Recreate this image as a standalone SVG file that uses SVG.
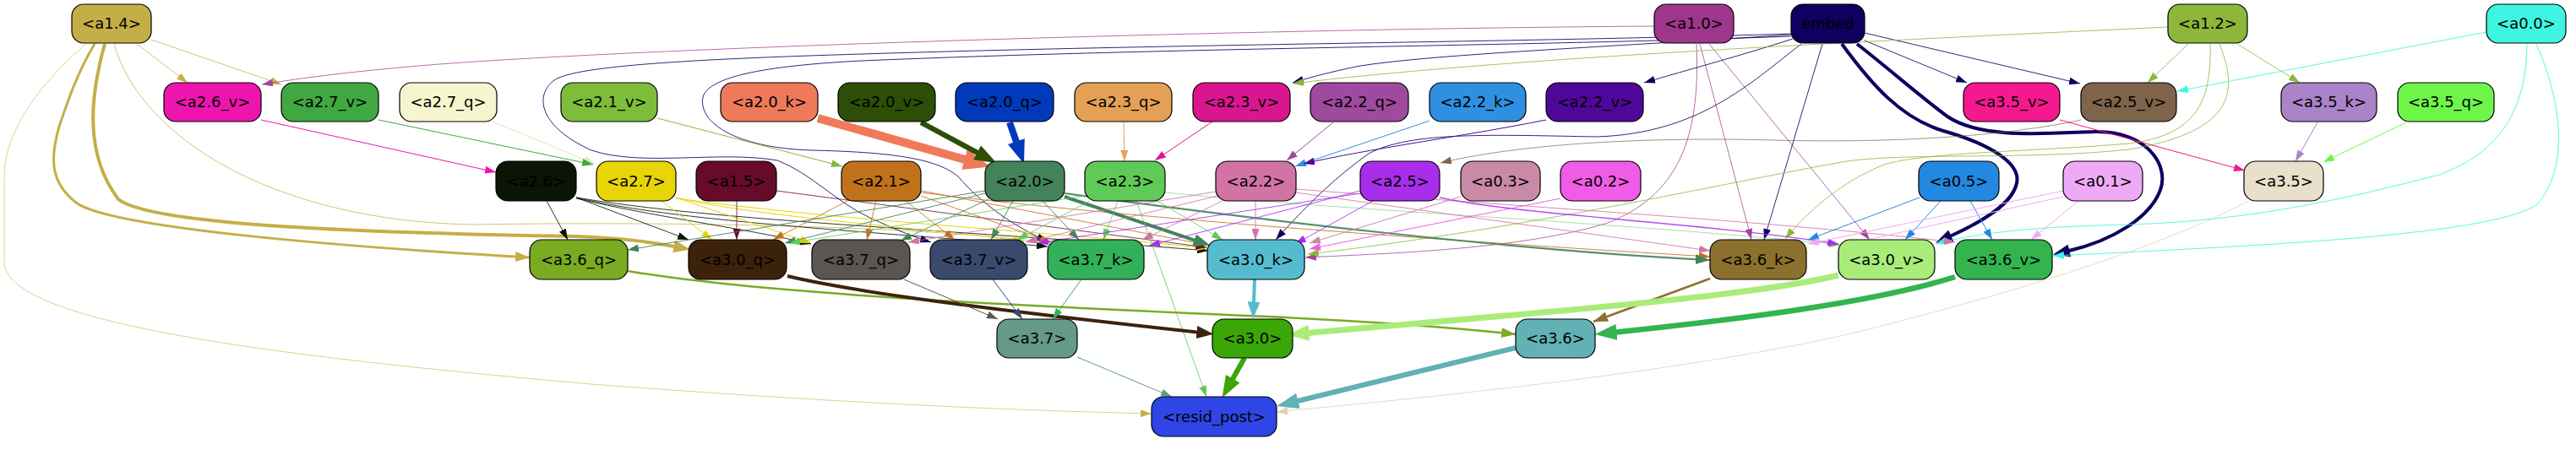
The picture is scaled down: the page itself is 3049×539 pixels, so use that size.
<svg xmlns="http://www.w3.org/2000/svg" width="3049" height="539" viewBox="0 0 3049 539">
<style>
.n rect{stroke:#000;stroke-width:1.2}
.n text{font-family:"DejaVu Sans","Liberation Sans",sans-serif;font-size:18px;text-anchor:middle;fill:#000}
#edges path{fill:none;stroke-width:1}
#edges .t{marker-end:url(#t)}
#edges .m{marker-end:url(#m)}
#edges .b4{marker-end:url(#b4)}
#edges .b6{marker-end:url(#b6)}
#edges .b8{marker-end:url(#b8)}
#edges .b10{marker-end:url(#b10)}
.s14{stroke:#c4af47;stroke-opacity:.75}
.s10{stroke:#a3479a;stroke-opacity:.8}
.sem{stroke:#0e005f;stroke-opacity:.85}
.s12{stroke:#8db63b;stroke-opacity:.8}
.s00{stroke:#3ef5e1;stroke-opacity:.85}
.s35k{stroke:#aa83c9}
.s35q{stroke:#6ff54a}
.s35v{stroke:#f4198f}
.s25v{stroke:#7f634a;stroke-opacity:.7}
.s35{stroke:#e0d2b8;stroke-opacity:.8}
.s22q{stroke:#9e4a9e}
.s22k{stroke:#2f8fe0}
.s22v{stroke:#4f0799}
.s23q{stroke:#e4a155}
.s23v{stroke:#d9168f}
.s21v{stroke:#7dbd3b}
.s27q{stroke:#e6e8b0}
.s27v{stroke:#40a840}
.s26v{stroke:#ee14ae}
.s20k{stroke:#ef7a5a}
.s20v{stroke:#2c4e07}
.s20q{stroke:#0139bb}
.s26{stroke:#0b1505;stroke-opacity:.85}
.s27{stroke:#e8d507}
.s15{stroke:#670b2b;stroke-opacity:.8}
.s21{stroke:#c0721b;stroke-opacity:.85}
.s20{stroke:#44835a;stroke-opacity:.9}
.s23{stroke:#5fca57;stroke-opacity:.8}
.s22{stroke:#d273a5;stroke-opacity:.85}
.s25{stroke:#a82eeb;stroke-opacity:.85}
.s03{stroke:#c98aa7}
.s02{stroke:#f05ce7}
.s05{stroke:#2388e0}
.s01{stroke:#efaaf7}
.s36q{stroke:#7aab22}
.s30q{stroke:#3d220b}
.s37q{stroke:#5c5652}
.s37v{stroke:#394a6d}
.s37k{stroke:#33b05a}
.s30k{stroke:#55bcd0}
.s36k{stroke:#8b712d}
.s30v{stroke:#aaec7a}
.s36v{stroke:#33b44f}
.s37{stroke:#659a86}
.s30{stroke:#3aa607}
.s36{stroke:#61b1b5}
</style>
<defs>
<marker id="t" markerUnits="userSpaceOnUse" viewBox="0 0 13 9" markerWidth="13" markerHeight="9" refX="13" refY="4.5" orient="auto"><path d="M0,0L13,4.5L0,9z" fill="context-stroke"/></marker>
<marker id="m" markerUnits="userSpaceOnUse" viewBox="0 0 17 12" markerWidth="17" markerHeight="12" refX="17" refY="6" orient="auto"><path d="M0,0L17,6L0,12z" fill="context-stroke"/></marker>
<marker id="b4" markerUnits="userSpaceOnUse" viewBox="0 0 20 15" markerWidth="20" markerHeight="15" refX="0.5" refY="7.5" orient="auto"><path d="M0,0L20,7.5L0,15z" fill="context-stroke"/></marker>
<marker id="b6" markerUnits="userSpaceOnUse" viewBox="0 0 26 19" markerWidth="26" markerHeight="19" refX="0.5" refY="9.5" orient="auto"><path d="M0,0L26,9.5L0,19z" fill="context-stroke"/></marker>
<marker id="b8" markerUnits="userSpaceOnUse" viewBox="0 0 28 21" markerWidth="28" markerHeight="21" refX="0.5" refY="10.5" orient="auto"><path d="M0,0L28,10.5L0,21z" fill="context-stroke"/></marker>
<marker id="b10" markerUnits="userSpaceOnUse" viewBox="0 0 32 25" markerWidth="32" markerHeight="25" refX="0.5" refY="12.5" orient="auto"><path d="M0,0L32,12.5L0,25z" fill="context-stroke"/></marker>
</defs>
<rect width="3049" height="539" fill="#fff"/>
<g id="edges">
<path class="t s14" d="M162,52 L222,98"/>
<path class="t s14" d="M179,47 L333,100"/>
<path class="m s14" style="stroke-width:3;stroke-opacity:1" d="M112,52 C92,85 80,120 70,150 C60,185 58,215 90,240 C130,270 400,292 627,305"/>
<path class="b4 s14" style="stroke-width:4;stroke-opacity:1" d="M124,52 C108,110 98,180 140,236 C180,268 450,276 680,280 C740,282 770,287 798,292"/>
<path class="t s14" d="M135,52 C165,160 320,262 560,266 C800,262 1100,268 1243,288"/>
<path class="t s14" style="stroke-opacity:.6" d="M102,52 C40,105 5,160 5,210 L5,310 C5,380 300,420 700,455 C1000,478 1200,486 1363,490"/>
<path class="t s10" d="M1958,31 C1500,34 800,55 520,76 C420,84 360,92 310,100"/>
<path class="t s10" d="M2012,52 L2073,284"/>
<path class="t s10" d="M2023,52 L2213,284"/>
<path class="t s10" d="M2008,52 C2012,150 1995,230 1900,265 C1800,295 1650,300 1545,305"/>
<path class="t sem" d="M2122,46 C2060,66 2000,82 1946,98"/>
<path class="t sem" d="M2120,41 C1900,56 1700,64 1610,78 C1575,85 1550,92 1530,98"/>
<path class="t sem" d="M2207,48 L2328,98"/>
<path class="t sem" d="M2207,39 L2462,99"/>
<path class="t sem" d="M2157,52 L2088,284"/>
<path class="b4 sem" style="stroke-width:4;stroke-opacity:1" d="M2180,52 C2215,100 2250,140 2300,155 C2360,172 2392,195 2387,217 C2382,242 2345,263 2309,279.5"/>
<path class="b4 sem" style="stroke-width:4;stroke-opacity:1" d="M2198,52 C2240,85 2270,112 2305,138 C2345,165 2420,158 2480,156 C2540,155 2568,195 2557,225 C2545,258 2500,285 2449,297"/>
<path class="t sem" d="M2132,52 C2070,100 2010,158 1890,162 C1770,160 1670,155 1620,182 C1580,210 1545,245 1510,284"/>
<path class="t sem" d="M2120,43 C1800,55 1400,56 1020,72 C900,78 838,92 832,115 C826,145 870,175 960,178 C1050,180 1110,187 1135,210 C1160,240 1200,268 1240,286"/>
<path class="t sem" d="M2120,40 C1800,50 1400,52 1020,64 C820,70 680,78 656,95 C632,113 638,150 700,178 C760,198 850,178 920,190 C960,205 990,240 1030,258 C1060,272 1080,280 1102,287"/>
<path class="t s12" d="M2566,32 C2300,45 1800,66 1530,99"/>
<path class="t s12" d="M2590,52 L2542,98"/>
<path class="t s12" d="M2648,52 L2722,98"/>
<path class="t s12" d="M2616,52 C2618,120 2600,160 2520,170 C2400,180 2280,180 2230,195 C2180,215 2140,250 2113,283"/>
<path class="t s12" d="M2627,52 C2648,105 2650,155 2520,177 C2400,190 2250,180 2180,192 C2050,215 1800,272 1548,301"/>
<path class="t s00" d="M2943,38 L2577,108"/>
<path class="t s00" d="M2991,52 C2990,130 2960,180 2887,207 C2780,235 2660,262 2520,266 C2420,268 2340,275 2291,289"/>
<path class="t s00" d="M3002,52 C3032,120 3042,200 3002,243 C2945,278 2700,290 2430,303"/>
<path class="t s35k" d="M2743,145 L2717,191"/>
<path class="t s35q" d="M2848,145 L2750,192"/>
<path class="t s35v" d="M2438,142 L2657,202"/>
<path class="t s25v" d="M2463,142 C2380,160 2250,170 2100,166 C1950,162 1800,170 1705,193"/>
<path class="t s35" d="M2662,238 C2580,280 2450,330 2200,393 C2000,440 1700,470 1511,488"/>
<path class="t s22q" d="M1578,145 L1523,190"/>
<path class="t s22k" d="M1692,143 L1533,197"/>
<path class="t s22v" d="M1830,142 C1730,162 1620,176 1543,194"/>
<path class="t s23q" d="M1330,144 L1331,191"/>
<path class="t s23v" d="M1435,144 L1367,190"/>
<path class="t s21v" d="M778,140 L997,197"/>
<path class="t s27q" d="M585,145 L704,194"/>
<path class="t s27v" d="M448,142 L702,195"/>
<path class="t s26v" d="M309,142 L587,204"/>
<path class="b10 s20k" style="stroke-width:10" d="M968,140 L1142,189"/>
<path class="b6 s20v" style="stroke-width:6" d="M1090,145 L1157,181"/>
<path class="b8 s20q" style="stroke-width:8" d="M1195,145 L1203,168"/>
<path class="t s26" d="M647,238 L672,284"/>
<path class="t s26" d="M682,234 L815,284"/>
<path class="t s26" d="M682,235 C780,258 880,270 960,289"/>
<path class="t s26" d="M682,234 C800,262 1000,272 1240,292"/>
<path class="t s26" d="M682,234 C850,262 1100,270 1430,297"/>
<path class="t s27" d="M783,238 L843,284"/>
<path class="t s27" d="M800,234 C860,255 910,270 960,288"/>
<path class="t s27" d="M800,234 C900,258 1100,270 1212,286"/>
<path class="t s27" d="M800,235 C1000,262 1250,275 1430,294"/>
<path class="t s15" d="M872,238 L872,284"/>
<path class="t s15" d="M919,226 L1428,293"/>
<path class="t s21" d="M1003,238 L915,284"/>
<path class="t s21" d="M1037,238 L1026,284"/>
<path class="t s21" d="M1072,238 L1130,284"/>
<path class="t s21" d="M1090,232 L1244,287"/>
<path class="t s21" d="M1090,226 L1428,290"/>
<path class="t s21" d="M1090,228 C1300,255 1700,285 2024,304"/>
<path class="t s20" d="M1166,226 L743,296"/>
<path class="t s20" d="M1166,229 L929,288"/>
<path class="t s20" d="M1170,236 L1066,285"/>
<path class="t s20" d="M1199,238 L1173,284"/>
<path class="t s20" d="M1234,238 L1277,284"/>
<path class="b4 s20" style="stroke-width:4;stroke-opacity:1" d="M1260,233 L1414,284.6"/>
<path class="m s20" style="stroke-width:2.2" d="M1260,229 C1500,262 1800,297 2024,308"/>
<path class="t s23" d="M1284,232 L934,288"/>
<path class="t s23" d="M1290,238 L1204,284"/>
<path class="t s23" d="M1323,238 L1306,284"/>
<path class="t s23" d="M1370,238 L1447,284"/>
<path class="t s23" d="M1345,238 L1428,470"/>
<path class="t s23" style="stroke-opacity:.55" d="M1379,228 C1600,250 1900,262 2178,290"/>
<path class="t s22" d="M1486,238 L1486,284"/>
<path class="t s22" d="M1439,227 L1075,287"/>
<path class="t s22" d="M1441,232 L1214,287"/>
<path class="t s22" d="M1447,238 L1352,284"/>
<path class="t s22" d="M1533,228 L2024,297"/>
<path class="t s22" d="M1534,224 C1800,245 2100,262 2314,287"/>
<path class="t s25" d="M1625,238 L1533,289"/>
<path class="t s25" d="M1610,226 L1360,291"/>
<path class="t s25" d="M1610,229 L1228,288"/>
<path class="t s25" style="stroke-width:1.4" d="M1704,234 C1800,255 2000,262 2176,289"/>
<path class="t s03" d="M1729,233 L1550,288"/>
<path class="t s02" d="M1847,235 L1550,295"/>
<path class="t s05" d="M2272,234 L2140,284"/>
<path class="t s05" d="M2297,238 L2255,284"/>
<path class="t s05" d="M2332,238 L2358,284"/>
<path class="t s01" d="M2442,226 L2140,289"/>
<path class="t s01" d="M2442,233 L2178,291"/>
<path class="t s01" d="M2460,238 L2404,284"/>
<path class="m s36q" style="stroke-width:2.5" d="M743,321 C900,348 1200,362 1500,375 C1650,382 1740,390 1794,396"/>
<path class="b4 s30q" style="stroke-width:4" d="M932,327 C1020,348 1200,370 1417,393.6"/>
<path class="t s37q" d="M1070,331 L1181,378"/>
<path class="t s37v" d="M1175,331 L1210,378"/>
<path class="t s37k" d="M1280,331 L1246,378"/>
<path class="b4 s30k" style="stroke-width:4" d="M1485,331 L1484,358"/>
<path class="m s36k" style="stroke-width:2.5" d="M2024,330 L1886,381"/>
<path class="b6 s30v" style="stroke-width:7" d="M2176,326 C2080,350 1850,368 1549,394.4"/>
<path class="b6 s36v" style="stroke-width:6.5" d="M2314,328 C2220,358 2060,378 1913,393.4"/>
<path class="t s37" d="M1275,423 L1387,470"/>
<path class="b6 s30" style="stroke-width:6" d="M1473,424 L1459,449"/>
<path class="b6 s36" style="stroke-width:6" d="M1794,412 L1536,475"/>
</g>
<g id="a1.4" class="n"><rect x="85" y="5" width="94" height="46" rx="14" fill="#c4af47"/><text x="132" y="34">&lt;a1.4&gt;</text></g>
<g id="a1.0" class="n"><rect x="1958" y="5" width="94" height="46" rx="14" fill="#9e378b"/><text x="2005" y="34">&lt;a1.0&gt;</text></g>
<g id="embed" class="n"><rect x="2120" y="5" width="87" height="46" rx="14" fill="#0e005f"/><text x="2163.5" y="34">embed</text></g>
<g id="a1.2" class="n"><rect x="2566" y="5" width="94" height="46" rx="14" fill="#8db63b"/><text x="2613" y="34">&lt;a1.2&gt;</text></g>
<g id="a0.0" class="n"><rect x="2943" y="5" width="94" height="46" rx="14" fill="#3ef5e1"/><text x="2990" y="34">&lt;a0.0&gt;</text></g>
<g id="a2.6_v" class="n"><rect x="194" y="98" width="115" height="46" rx="14" fill="#ee14ae"/><text x="251.5" y="127">&lt;a2.6_v&gt;</text></g>
<g id="a2.7_v" class="n"><rect x="333" y="98" width="115" height="46" rx="14" fill="#40a840"/><text x="390.5" y="127">&lt;a2.7_v&gt;</text></g>
<g id="a2.7_q" class="n"><rect x="473" y="98" width="115" height="46" rx="14" fill="#f5f6cd"/><text x="530.5" y="127">&lt;a2.7_q&gt;</text></g>
<g id="a2.1_v" class="n"><rect x="664" y="98" width="114" height="46" rx="14" fill="#7dbd3b"/><text x="721" y="127">&lt;a2.1_v&gt;</text></g>
<g id="a2.0_k" class="n"><rect x="853" y="98" width="115" height="46" rx="14" fill="#ef7a5a"/><text x="910.5" y="127">&lt;a2.0_k&gt;</text></g>
<g id="a2.0_v" class="n"><rect x="992" y="98" width="115" height="46" rx="14" fill="#2c4e07"/><text x="1049.5" y="127">&lt;a2.0_v&gt;</text></g>
<g id="a2.0_q" class="n"><rect x="1131" y="98" width="116" height="46" rx="14" fill="#0139bb"/><text x="1189" y="127">&lt;a2.0_q&gt;</text></g>
<g id="a2.3_q" class="n"><rect x="1272" y="98" width="115" height="46" rx="14" fill="#e4a155"/><text x="1329.5" y="127">&lt;a2.3_q&gt;</text></g>
<g id="a2.3_v" class="n"><rect x="1412" y="98" width="115" height="46" rx="14" fill="#d9168f"/><text x="1469.5" y="127">&lt;a2.3_v&gt;</text></g>
<g id="a2.2_q" class="n"><rect x="1551" y="98" width="116" height="46" rx="14" fill="#9e4a9e"/><text x="1609" y="127">&lt;a2.2_q&gt;</text></g>
<g id="a2.2_k" class="n"><rect x="1692" y="98" width="114" height="46" rx="14" fill="#2f8fe0"/><text x="1749" y="127">&lt;a2.2_k&gt;</text></g>
<g id="a2.2_v" class="n"><rect x="1830" y="98" width="115" height="46" rx="14" fill="#4f0799"/><text x="1887.5" y="127">&lt;a2.2_v&gt;</text></g>
<g id="a3.5_v" class="n"><rect x="2324" y="98" width="114" height="46" rx="14" fill="#f4198f"/><text x="2381" y="127">&lt;a3.5_v&gt;</text></g>
<g id="a2.5_v" class="n"><rect x="2463" y="98" width="113" height="46" rx="14" fill="#7f634a"/><text x="2519.5" y="127">&lt;a2.5_v&gt;</text></g>
<g id="a3.5_k" class="n"><rect x="2700" y="98" width="113" height="46" rx="14" fill="#aa83c9"/><text x="2756.5" y="127">&lt;a3.5_k&gt;</text></g>
<g id="a3.5_q" class="n"><rect x="2838" y="98" width="114" height="46" rx="14" fill="#6ff54a"/><text x="2895" y="127">&lt;a3.5_q&gt;</text></g>
<g id="a2.6" class="n"><rect x="587" y="191" width="95" height="47" rx="14" fill="#0b1505"/><text x="634.5" y="220.5">&lt;a2.6&gt;</text></g>
<g id="a2.7" class="n"><rect x="706" y="191" width="94" height="47" rx="14" fill="#e8d507"/><text x="753" y="220.5">&lt;a2.7&gt;</text></g>
<g id="a1.5" class="n"><rect x="824" y="191" width="95" height="47" rx="14" fill="#670b2b"/><text x="871.5" y="220.5">&lt;a1.5&gt;</text></g>
<g id="a2.1" class="n"><rect x="996" y="191" width="94" height="47" rx="14" fill="#c0721b"/><text x="1043" y="220.5">&lt;a2.1&gt;</text></g>
<g id="a2.0" class="n"><rect x="1166" y="191" width="94" height="47" rx="14" fill="#44835a"/><text x="1213" y="220.5">&lt;a2.0&gt;</text></g>
<g id="a2.3" class="n"><rect x="1284" y="191" width="95" height="47" rx="14" fill="#5fca57"/><text x="1331.5" y="220.5">&lt;a2.3&gt;</text></g>
<g id="a2.2" class="n"><rect x="1439" y="191" width="95" height="47" rx="14" fill="#d273a5"/><text x="1486.5" y="220.5">&lt;a2.2&gt;</text></g>
<g id="a2.5" class="n"><rect x="1610" y="191" width="94" height="47" rx="14" fill="#a82eeb"/><text x="1657" y="220.5">&lt;a2.5&gt;</text></g>
<g id="a0.3" class="n"><rect x="1729" y="191" width="94" height="47" rx="14" fill="#c98aa7"/><text x="1776" y="220.5">&lt;a0.3&gt;</text></g>
<g id="a0.2" class="n"><rect x="1847" y="191" width="95" height="47" rx="14" fill="#f05ce7"/><text x="1894.5" y="220.5">&lt;a0.2&gt;</text></g>
<g id="a0.5" class="n"><rect x="2271" y="191" width="95" height="47" rx="14" fill="#2388e0"/><text x="2318.5" y="220.5">&lt;a0.5&gt;</text></g>
<g id="a0.1" class="n"><rect x="2442" y="191" width="94" height="47" rx="14" fill="#efaaf7"/><text x="2489" y="220.5">&lt;a0.1&gt;</text></g>
<g id="a3.5" class="n"><rect x="2656" y="191" width="94" height="47" rx="14" fill="#e9dfcb"/><text x="2703" y="220.5">&lt;a3.5&gt;</text></g>
<g id="a3.6_q" class="n"><rect x="627" y="284" width="116" height="47" rx="14" fill="#7aab22"/><text x="685" y="313.5">&lt;a3.6_q&gt;</text></g>
<g id="a3.0_q" class="n"><rect x="815" y="284" width="116" height="47" rx="14" fill="#3d220b"/><text x="873" y="313.5">&lt;a3.0_q&gt;</text></g>
<g id="a3.7_q" class="n"><rect x="961" y="284" width="116" height="47" rx="14" fill="#5c5652"/><text x="1019" y="313.5">&lt;a3.7_q&gt;</text></g>
<g id="a3.7_v" class="n"><rect x="1101" y="284" width="115" height="47" rx="14" fill="#394a6d"/><text x="1158.5" y="313.5">&lt;a3.7_v&gt;</text></g>
<g id="a3.7_k" class="n"><rect x="1240" y="284" width="114" height="47" rx="14" fill="#33b05a"/><text x="1297" y="313.5">&lt;a3.7_k&gt;</text></g>
<g id="a3.0_k" class="n"><rect x="1429" y="284" width="115" height="47" rx="14" fill="#55bcd0"/><text x="1486.5" y="313.5">&lt;a3.0_k&gt;</text></g>
<g id="a3.6_k" class="n"><rect x="2024" y="284" width="114" height="47" rx="14" fill="#8b712d"/><text x="2081" y="313.5">&lt;a3.6_k&gt;</text></g>
<g id="a3.0_v" class="n"><rect x="2176" y="284" width="114" height="47" rx="14" fill="#aaec7a"/><text x="2233" y="313.5">&lt;a3.0_v&gt;</text></g>
<g id="a3.6_v" class="n"><rect x="2314" y="284" width="115" height="47" rx="14" fill="#33b44f"/><text x="2371.5" y="313.5">&lt;a3.6_v&gt;</text></g>
<g id="a3.7" class="n"><rect x="1180" y="378" width="95" height="46" rx="14" fill="#659a86"/><text x="1227.5" y="407">&lt;a3.7&gt;</text></g>
<g id="a3.0" class="n"><rect x="1435" y="378" width="95" height="46" rx="14" fill="#3aa607"/><text x="1482.5" y="407">&lt;a3.0&gt;</text></g>
<g id="a3.6" class="n"><rect x="1794" y="378" width="94" height="46" rx="14" fill="#61b1b5"/><text x="1841" y="407">&lt;a3.6&gt;</text></g>
<g id="resid_post" class="n"><rect x="1363" y="470" width="148" height="47" rx="14" fill="#2f45e6"/><text x="1437" y="499.5">&lt;resid_post&gt;</text></g>
</svg>
